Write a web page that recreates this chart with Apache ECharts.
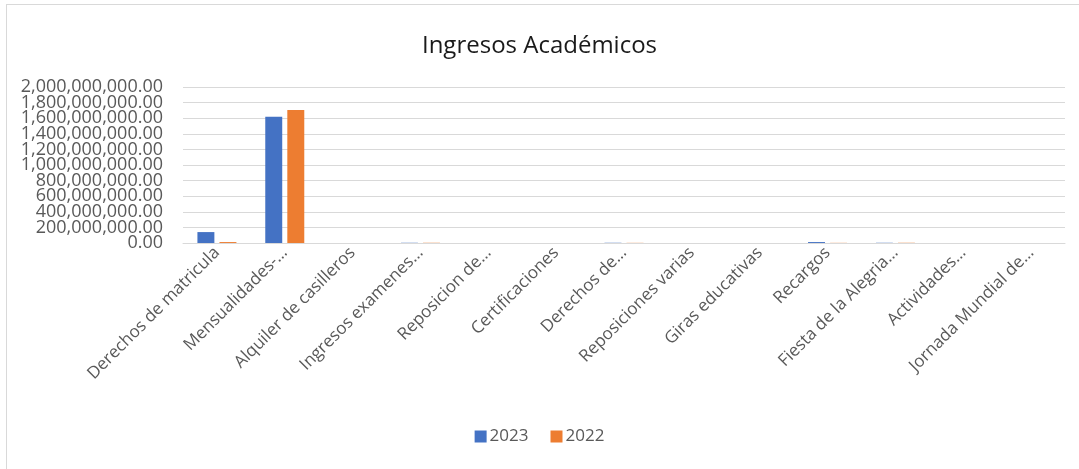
<!DOCTYPE html>
<html>
  <head>
    <title>Ingresos Académicos</title>
    <style>
      html, body {
        margin: 0;
        padding: 0;
        width: 100%;
        height: 100%;
        background: #fff;
      }
      .frame {
        position: absolute;
        left: 6px;
        top: 4px;
        width: 1100px;
        height: 500px;
        border: 1px solid #d9d9d9;
        box-sizing: border-box;
      }
      #container {
        position: absolute;
        left: 0;
        top: 0;
        width: 1079px;
        height: 469px;
      }
    </style>
  </head>
  <body>
    <div class="frame"></div>
    <div id="container"></div>
    <script src="https://cdn.jsdelivr.net/npm/echarts@6/dist/echarts.min.js"></script>
    <script type="text/javascript">

      const categories = [
        'Derechos de matricula',
        'Mensualidades-…',
        'Alquiler de casilleros',
        'Ingresos examenes…',
        'Reposicion de…',
        'Certificaciones',
        'Derechos de…',
        'Reposiciones varias',
        'Giras educativas',
        'Recargos',
        'Fiesta de la Alegria…',
        'Actividades…',
        'Jornada Mundial de…'
      ];
      const seriesNames = ['2023', '2022'];
      const values2023 = [140000000, 1617000000, 0, 3000000, 0, 0, 3000000, 0, 0, 12000000, 3000000, 0, 0];
      const values2022 = [12000000, 1705000000, 0, 3000000, 0, 0, 2000000, 0, 0, 2000000, 3000000, 0, 0];
      const colors = ['#4472C4', '#ED7D31'];

      // axis range: 0 .. 2,000,000,000 in steps of 200,000,000
      const yMax = 2000000000;
      const yStep = 200000000;

      const fmt = v => v.toLocaleString('en-US', { minimumFractionDigits: 2, maximumFractionDigits: 2 });

      // plot box in px
      const plotLeft = 183, plotRight = 14, plotTop = 87, plotBottom = 226;
      const stepPx = (469 - plotTop - plotBottom) * yStep / yMax;

      const yLabel = {
        margin: 20,
        showMinLabel: true,
        showMaxLabel: true,
        fontFamily: 'Open Sans',
        fontSize: 18,
        color: '#595959',
        formatter: fmt
      };

      const chart = echarts.init(document.getElementById('container'));
      chart.setOption({
        animation: false,
        color: colors,
        title: {
          text: 'Ingresos Académicos',
          left: 'center',
          top: 29,
          textStyle: {
            fontFamily: 'Open Sans',
            fontSize: 24,
            fontWeight: 'normal',
            color: '#1a1a1a'
          }
        },
        legend: {
          data: seriesNames,
          bottom: 19,
          left: 'center',
          itemWidth: 12,
          itemHeight: 12,
          itemGap: 22,
          icon: 'rect',
          textStyle: { fontFamily: 'Open Sans', fontSize: 17, color: '#595959', padding: [0, 0, 0, -2] }
        },
        grid: [
          { left: plotLeft, right: plotRight, top: plotTop, bottom: plotBottom },
          // second box shifted by one step, only to carry the odd tick labels
          { left: plotLeft, right: plotRight, top: plotTop + stepPx, bottom: plotBottom + stepPx }
        ],
        xAxis: [
          {
            type: 'category',
            gridIndex: 0,
            data: categories,
            axisLine: { lineStyle: { color: '#d9d9d9' } },
            axisTick: { show: false },
            axisLabel: {
              rotate: 45,
              interval: 0,
              margin: 7,
              fontFamily: 'Open Sans',
              fontSize: 17,
              color: '#595959'
            }
          },
          { type: 'category', gridIndex: 1, data: categories, show: false }
        ],
        yAxis: [
          {
            type: 'value',
            gridIndex: 0,
            min: 0,
            max: yMax,
            interval: yStep * 2,
            axisLine: { show: false },
            axisTick: { show: false },
            splitLine: { lineStyle: { color: '#d9d9d9' } },
            axisLabel: yLabel
          },
          {
            type: 'value',
            gridIndex: 1,
            min: yStep,
            max: yMax - yStep,
            interval: yStep * 2,
            axisLine: { show: false },
            axisTick: { show: false },
            splitLine: { lineStyle: { color: '#d9d9d9' } },
            axisLabel: yLabel
          }
        ],
        series: [
          {
            name: seriesNames[0],
            type: 'bar',
            data: values2023,
            barWidth: '25%',
            barGap: '30%'
          },
          {
            name: seriesNames[1],
            type: 'bar',
            data: values2022,
            barWidth: '25%',
            barGap: '30%'
          }
        ]
      });
    </script>
  </body>
</html>
